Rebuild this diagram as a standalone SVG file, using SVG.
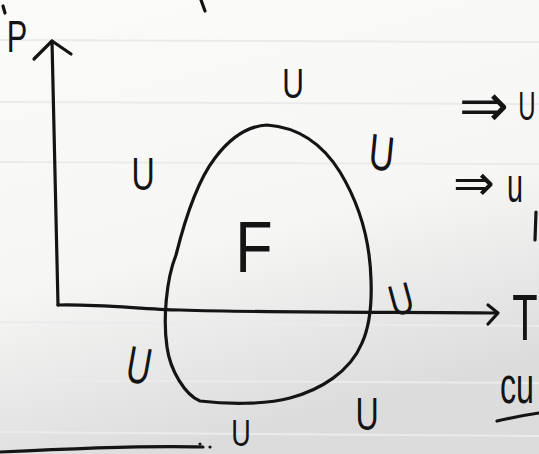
<svg xmlns="http://www.w3.org/2000/svg" width="539" height="454" viewBox="0 0 539 454">
<defs>
<linearGradient id="paper" x1="0" y1="0" x2="0.3" y2="1">
<stop offset="0" stop-color="#fbfbfa"/>
<stop offset="0.6" stop-color="#f6f6f5"/>
<stop offset="1" stop-color="#dcdcdc"/>
</linearGradient>
<style>
.ink{fill:none;stroke:#141414;stroke-width:3.2;stroke-linecap:round;stroke-linejoin:round}
.rule{fill:none;stroke:#ebebeb;stroke-width:2}
.h{fill:#141414;font-family:"Liberation Sans","DejaVu Sans",sans-serif;text-anchor:middle}
.ar{fill:#141414;font-family:"DejaVu Sans",sans-serif;text-anchor:middle}
</style>
</defs>
<rect width="539" height="454" fill="url(#paper)"/>
<g id="rules">
<path class="rule" d="M0 40 L539 42"/>
<path class="rule" d="M0 102 L539 104"/>
<path class="rule" d="M0 162 L539 164"/>
<path class="rule" d="M0 322 L539 326"/>
<path class="rule" d="M0 380 L539 383"/>
<path class="rule" d="M0 432 L539 436"/>
</g>
<g id="fragments">
<path class="ink" d="M201 0 L205 11"/>
<path class="ink" d="M3 6 L5 13"/>
<path class="ink" d="M0 452 C60 449 140 445 203 447"/>
<circle cx="200" cy="444" r="1.6" fill="#141414"/>
<circle cx="210" cy="447" r="1.6" fill="#141414"/>
<path class="ink" d="M536 212 L535 240"/>
<path class="ink" d="M497 421 C510 418 525 415 539 413"/>
</g>
<g id="connectors">
<path id="p-axis" class="ink" d="M52 41 C53 100 56 200 58 305"/>
<path class="ink" d="M34 59 L52 41 L71 54"/>
<path id="t-axis" class="ink" d="M58 305 C100 304 140 309 180 310 C280 313 400 312 496 313"/>
<path class="ink" d="M488 305 L498 313 L488 324"/>
</g>
<g id="loop">
<path class="ink" d="M267 125 C295 127 320 140 340 172 C360 205 370 240 371 280 C372 305 370 325 362 343 C350 372 320 390 290 398 C265 405 225 404 200 401 C185 395 170 370 167 347 C163 320 166 280 176 255 C186 215 198 180 215 158 C230 138 248 126 267 125 Z"/>
</g>
<g id="label-P"><text class="h" font-size="44" transform="translate(17,52) scale(0.7,1)">P</text></g>
<g id="label-T"><text class="h" font-size="64" transform="translate(525,340) scale(0.65,1)">T</text></g>
<g id="label-F"><text class="h" font-size="72" transform="translate(254,272) scale(0.85,1)">F</text></g>
<g id="u-labels">
<text class="h" font-size="43" transform="translate(293,98) scale(0.7,1)">U</text>
<text class="h" font-size="46" transform="translate(143,190) scale(0.7,1)">U</text>
<text class="h" font-size="50" transform="translate(380,170) scale(0.7,1) rotate(8)">U</text>
<text class="h" font-size="44" transform="translate(405,314) rotate(-15) scale(0.75,1)">U</text>
<text class="h" font-size="52" transform="translate(136,383) rotate(10) scale(0.65,1)">U</text>
<text class="h" font-size="46" transform="translate(367,430) scale(0.7,1)">U</text>
<text class="h" font-size="36" transform="translate(241,446) scale(0.75,1)">U</text>
</g>
<g id="notes">
<text class="ar" font-size="60" x="484" y="126">⇒</text>
<text class="h" font-size="40" transform="translate(527,120) scale(0.6,1)">U</text>
<text class="ar" font-size="50" x="474" y="200">⇒</text>
<text class="h" font-size="48" transform="translate(515,202) scale(0.6,1)">u</text>
<text class="h" font-size="52" style="text-anchor:start" transform="translate(500,403) scale(0.62,1)">cu</text>
</g>
</svg>
